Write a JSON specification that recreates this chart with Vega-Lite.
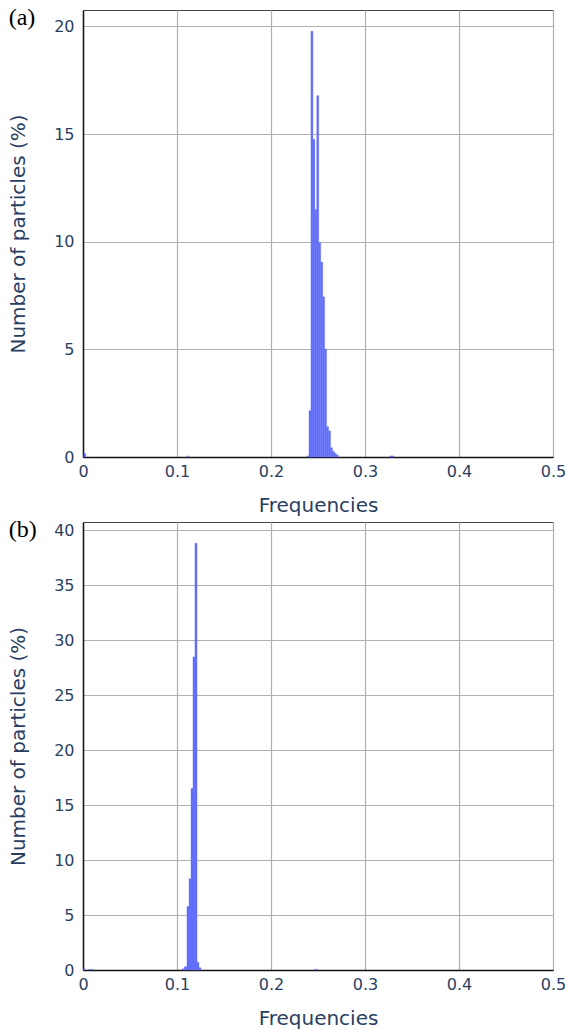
{
  "$schema": "https://vega.github.io/schema/vega-lite/v6.json",
  "background": "white",
  "padding": {"left": 8, "top": 5, "right": 14, "bottom": 5},
  "spacing": 1,
  "config": {
    "view": {"stroke": "#444444", "strokeWidth": 1},
    "axis": {
      "labelFont": "DejaVu Sans",
      "titleFont": "DejaVu Sans",
      "labelColor": "#2a3f5f",
      "titleColor": "#2a3f5f",
      "labelFontSize": 16,
      "titleFontSize": 20,
      "titleFontWeight": "normal",
      "gridColor": "#b0b0b0",
      "gridWidth": 1.2,
      "ticks": false,
      "domainColor": "#111111",
      "domainWidth": 1.5
    },
    "title": {"font": "Liberation Serif", "fontSize": 24, "fontWeight": "normal", "color": "#000000", "anchor": "start", "frame": "bounds"}
  },
  "vconcat": [
    {
      "title": {"text": "(a)", "offset": -20},
      "width": 470,
      "height": 447,
      "data": {"values": [
        {"x0": 0.0010, "x1": 0.0030, "pct": 0.16},
        {"x0": 0.1105, "x1": 0.1120, "pct": 0.05},
        {"x0": 0.3265, "x1": 0.3305, "pct": 0.05},
        {"x0": 0.2383, "x1": 0.2404, "pct": 0.05},
        {"x0": 0.2404, "x1": 0.2425, "pct": 2.15},
        {"x0": 0.2425, "x1": 0.2446, "pct": 19.77},
        {"x0": 0.2446, "x1": 0.2466, "pct": 14.76},
        {"x0": 0.2466, "x1": 0.2487, "pct": 11.49},
        {"x0": 0.2487, "x1": 0.2508, "pct": 16.78},
        {"x0": 0.2508, "x1": 0.2529, "pct": 9.94},
        {"x0": 0.2529, "x1": 0.2550, "pct": 9.05},
        {"x0": 0.2550, "x1": 0.2570, "pct": 7.44},
        {"x0": 0.2570, "x1": 0.2591, "pct": 5.01},
        {"x0": 0.2591, "x1": 0.2612, "pct": 1.41},
        {"x0": 0.2612, "x1": 0.2633, "pct": 1.21},
        {"x0": 0.2633, "x1": 0.2654, "pct": 0.43},
        {"x0": 0.2654, "x1": 0.2675, "pct": 0.26},
        {"x0": 0.2675, "x1": 0.2695, "pct": 0.17},
        {"x0": 0.2695, "x1": 0.2716, "pct": 0.09}
      ]},
      "mark": {"type": "rect", "color": "#636efa", "stroke": "#636efa", "strokeWidth": 0.4},
      "encoding": {
        "x": {"field": "x0", "type": "quantitative", "scale": {"domain": [0, 0.5], "nice": false},
              "axis": {"title": "Frequencies", "values": [0, 0.1, 0.2, 0.3, 0.4, 0.5], "format": "~g", "labelPadding": 6, "titlePadding": 16, "labelFlush": false}},
        "x2": {"field": "x1"},
        "y": {"field": "pct", "type": "quantitative", "scale": {"domain": [0, 20.76], "nice": false, "zero": true},
              "axis": {"title": "Number of particles (%)", "values": [0, 5, 10, 15, 20], "labelPadding": 9, "titlePadding": 25}},
        "y2": {"datum": 0}
      }
    },
    {
      "title": {"text": "(b)", "offset": -20},
      "width": 470,
      "height": 448,
      "data": {"values": [
        {"x0": 0.0005, "x1": 0.0025, "pct": 0.1},
        {"x0": 0.0060, "x1": 0.0080, "pct": 0.05},
        {"x0": 0.0085, "x1": 0.0105, "pct": 0.05},
        {"x0": 0.2465, "x1": 0.2490, "pct": 0.06},
        {"x0": 0.1053, "x1": 0.1078, "pct": 0.1},
        {"x0": 0.1078, "x1": 0.1106, "pct": 0.3},
        {"x0": 0.1106, "x1": 0.1128, "pct": 5.77},
        {"x0": 0.1128, "x1": 0.1149, "pct": 8.29},
        {"x0": 0.1149, "x1": 0.1170, "pct": 16.5},
        {"x0": 0.1170, "x1": 0.1191, "pct": 28.46},
        {"x0": 0.1191, "x1": 0.1213, "pct": 38.8},
        {"x0": 0.1213, "x1": 0.1234, "pct": 0.7},
        {"x0": 0.1234, "x1": 0.1255, "pct": 0.2}
      ]},
      "mark": {"type": "rect", "color": "#636efa", "stroke": "#636efa", "strokeWidth": 0.4},
      "encoding": {
        "x": {"field": "x0", "type": "quantitative", "scale": {"domain": [0, 0.5], "nice": false},
              "axis": {"title": "Frequencies", "values": [0, 0.1, 0.2, 0.3, 0.4, 0.5], "format": "~g", "labelPadding": 6, "titlePadding": 16, "labelFlush": false}},
        "x2": {"field": "x1"},
        "y": {"field": "pct", "type": "quantitative", "scale": {"domain": [0, 40.73], "nice": false, "zero": true},
              "axis": {"title": "Number of particles (%)", "values": [0, 5, 10, 15, 20, 25, 30, 35, 40], "labelPadding": 9, "titlePadding": 25}},
        "y2": {"datum": 0}
      }
    }
  ]
}
